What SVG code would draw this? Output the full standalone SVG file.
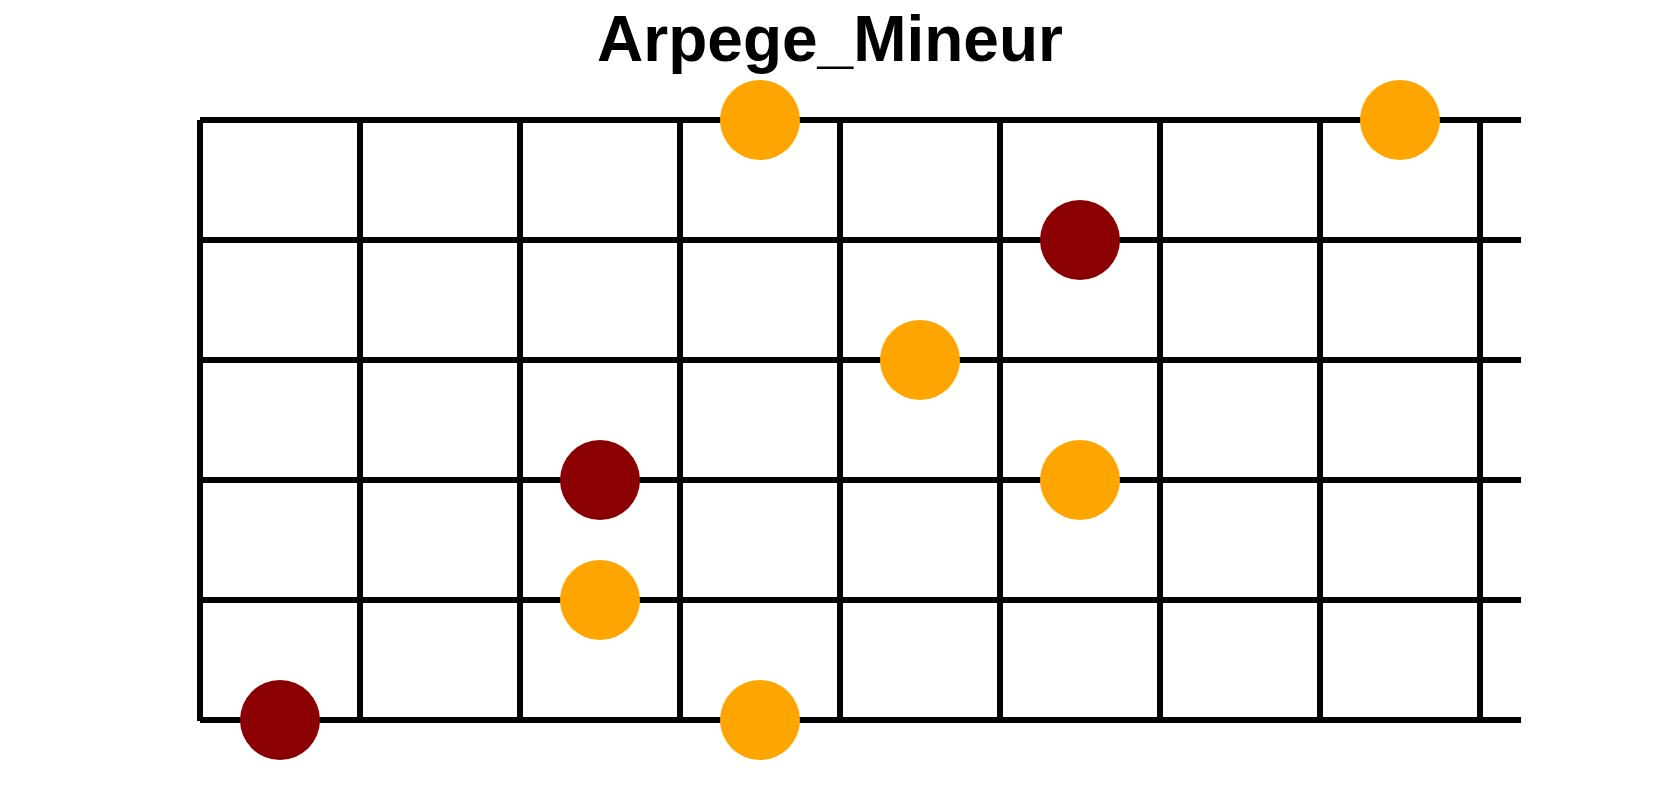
<svg xmlns="http://www.w3.org/2000/svg" width="1680" height="800" viewBox="0 0 1680 800">
<style>
.grid line{stroke:#000;stroke-width:6}
.root{fill:#8B0000}
.note{fill:#FFA500}
.title{font-family:"Liberation Sans",Arial,sans-serif;font-weight:bold;font-size:64px;fill:#000}
</style>
<rect width="1680" height="800" fill="#fff"/>
<text class="title" x="830" y="61" text-anchor="middle">Arpege_Mineur</text>
<g id="connectors" class="grid">
<line x1="200" y1="120" x2="1521" y2="120"/>
<line x1="200" y1="240" x2="1521" y2="240"/>
<line x1="200" y1="360" x2="1521" y2="360"/>
<line x1="200" y1="480" x2="1521" y2="480"/>
<line x1="200" y1="600" x2="1521" y2="600"/>
<line x1="200" y1="720" x2="1521" y2="720"/>
<line x1="200" y1="120" x2="200" y2="721"/>
<line x1="360" y1="120" x2="360" y2="721"/>
<line x1="520" y1="120" x2="520" y2="721"/>
<line x1="680" y1="120" x2="680" y2="721"/>
<line x1="840" y1="120" x2="840" y2="721"/>
<line x1="1000" y1="120" x2="1000" y2="721"/>
<line x1="1160" y1="120" x2="1160" y2="721"/>
<line x1="1320" y1="120" x2="1320" y2="721"/>
<line x1="1480" y1="120" x2="1480" y2="721"/>
</g>
<g id="n1"><circle class="note" cx="760" cy="120" r="40"/></g>
<g id="n2"><circle class="note" cx="1400" cy="120" r="40"/></g>
<g id="n3"><circle class="root" cx="1080" cy="240" r="40"/></g>
<g id="n4"><circle class="note" cx="920" cy="360" r="40"/></g>
<g id="n5"><circle class="root" cx="600" cy="480" r="40"/></g>
<g id="n6"><circle class="note" cx="1080" cy="480" r="40"/></g>
<g id="n7"><circle class="note" cx="600" cy="600" r="40"/></g>
<g id="n8"><circle class="root" cx="280" cy="720" r="40"/></g>
<g id="n9"><circle class="note" cx="760" cy="720" r="40"/></g>
</svg>
